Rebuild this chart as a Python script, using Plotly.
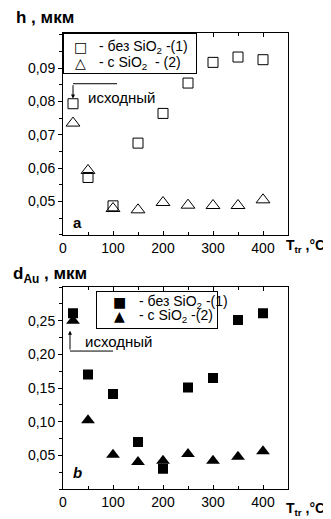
import plotly.graph_objects as go

temps = [20, 50, 100, 150, 200, 250, 300, 350, 400]
h_no_sio2 = [0.0793, 0.0572, 0.0487, 0.0675, 0.0764, 0.0855, 0.0917, 0.0933, 0.0925]
h_sio2 = [0.0735, 0.0593, 0.0479, 0.0475, 0.0497, 0.0489, 0.0488, 0.0488, 0.0505]
d_no_sio2 = [0.261, 0.170, 0.141, 0.070, 0.030, 0.151, 0.165, 0.251, 0.261]
d_sio2 = [0.250, 0.102, 0.051, 0.040, 0.042, 0.052, 0.042, 0.048, 0.056]

x_ticks = [0, 100, 200, 300, 400]
h_ticks = [0.05, 0.06, 0.07, 0.08, 0.09]
h_ticktext = ["0,05", "0,06", "0,07", "0,08", "0,09"]
d_ticks = [0.05, 0.10, 0.15, 0.20, 0.25]
d_ticktext = ["0,05", "0,10", "0,15", "0,20", "0,25"]

FONT = "Liberation Sans, Arial, sans-serif"
SYMFONT = "DejaVu Sans, sans-serif"
OFF = 8  # page body margin
W, H = 331 - OFF, 519 - OFF
L = 63 - OFF
T = 33 - OFF
R = W - (288 - OFF)
B = H - (489.3 - OFF)
PW, PH = W - L - R, H - T - B


def px(xp):
    return (xp - OFF - L) / PW


def py(yp):
    return 1 - (yp - OFF - T) / PH


top_dom = [py(235), py(33)]
bot_dom = [py(489.3), py(287.3)]

fig = go.Figure()

fig.add_trace(go.Scatter(x=temps, y=h_no_sio2, mode="markers", name="- без SiO2 -(1)",
                         marker=dict(symbol="square-open", size=10, color="black", line=dict(width=1)),
                         xaxis="x", yaxis="y"))
fig.add_trace(go.Scatter(x=temps, y=h_sio2, mode="markers", name="- с SiO2 - (2)",
                         marker=dict(symbol="triangle-up-open", size=12, color="black", line=dict(width=1)),
                         xaxis="x", yaxis="y"))
fig.add_trace(go.Scatter(x=temps, y=d_no_sio2, mode="markers", name="- без SiO2 -(1)",
                         marker=dict(symbol="square", size=10, color="black"),
                         xaxis="x2", yaxis="y2"))
fig.add_trace(go.Scatter(x=temps, y=d_sio2, mode="markers", name="- с SiO2 -(2)",
                         marker=dict(symbol="triangle-up", size=12, color="black"),
                         xaxis="x2", yaxis="y2"))

tickfont = dict(family=FONT, size=14, color="black")


def xaxis(anchor):
    return dict(domain=[0, 1], range=[0, 450], anchor=anchor, tickvals=x_ticks,
                ticks="inside", ticklen=4, tickcolor="black", mirror="allticks",
                showline=True, linecolor="black", linewidth=1, showgrid=False, zeroline=False,
                automargin=False, tickfont=tickfont,
                minor=dict(ticks="inside", dtick=50, tick0=0, ticklen=3, tickcolor="black"))


def yaxis(anchor, dom, rng, tv, tt, mdt):
    return dict(domain=dom, range=rng, anchor=anchor, tickvals=tv, ticktext=tt,
                ticks="outside", ticklen=4, tickcolor="black", mirror=True,
                showline=True, linecolor="black", linewidth=1, showgrid=False, zeroline=False,
                automargin=False, tickfont=tickfont,
                minor=dict(ticks="outside", dtick=mdt, ticklen=3, tickcolor="black"))


def yright(anchor, over, dom, rng, tv, mdt):
    return dict(domain=dom, range=rng, anchor=anchor, overlaying=over, side="right",
                tickvals=tv, ticks="inside", ticklen=4, tickcolor="black", showticklabels=False,
                showline=False, showgrid=False, zeroline=False, automargin=False,
                minor=dict(ticks="inside", dtick=mdt, ticklen=3, tickcolor="black"))


h_range = [0.04, 0.1005]
d_range = [0.0, 0.3]

fig.update_layout(
    width=W, height=H, autosize=False,
    margin=dict(l=L, r=R, t=T, b=B, autoexpand=False),
    paper_bgcolor="white", plot_bgcolor="white",
    font=dict(family=FONT, color="black"),
    xaxis=xaxis("y"),
    yaxis=yaxis("x", top_dom, h_range, h_ticks, h_ticktext, 0.005),
    xaxis2=xaxis("y2"),
    yaxis2=yaxis("x2", bot_dom, d_range, d_ticks, d_ticktext, 0.025),
    yaxis3=yright("x", "y", top_dom, h_range, h_ticks, 0.005),
    yaxis4=yright("x2", "y2", bot_dom, d_range, d_ticks, 0.025),
    showlegend=False,
)

ann = []


def txt(text, xp, yp, size, anchor="left", family=FONT):
    ann.append(dict(text=text, x=px(xp), y=py(yp), xref="paper", yref="paper",
                    xanchor=anchor, yanchor="middle", showarrow=False,
                    font=dict(size=size, family=family, color="black")))


def box(x0, y0, x1, y1):
    # legend frame drawn as a bordered empty annotation
    ann.append(dict(text=" ", x=px(x0), y=py(y0), xref="paper", yref="paper",
                    xanchor="left", yanchor="top", showarrow=False,
                    width=x1 - x0 - 2, height=y1 - y0 - 2, borderpad=0,
                    bordercolor="black", borderwidth=1, bgcolor="white"))


# axis titles
txt("<b>h , мкм</b>", 14, 17, 17)
txt("<b>d<sub>Au</sub> , мкм</b>", 11, 275, 17)
txt("<b>T<sub>tr</sub> ,°C</b>", 284, 246, 14)
txt("<b>T<sub>tr</sub> ,°C</b>", 284, 509, 14)

# legend frames
box(63, 33, 197, 74)
box(96, 290.7, 218, 329)

# legend contents
txt("□", 80, 46.7, 14, "center", SYMFONT)
txt("△", 80, 63, 14, "center", SYMFONT)
txt("- без SiO<sub>2</sub> -(1)", 97, 46.7, 14)
txt("- с SiO<sub>2</sub>  - (2)", 97, 63.5, 14)
txt("■", 119, 302.3, 14, "center", SYMFONT)
txt("▲", 119, 316, 14, "center", SYMFONT)
txt("- без SiO<sub>2</sub> -(1)", 136.5, 302.3, 14)
txt("- с SiO<sub>2</sub> -(2)", 136.5, 316.2, 14)

# panel labels
ann.append(dict(text="<b>a</b>", x=28, y=0.0436, xref="x", yref="y", showarrow=False,
                font=dict(size=15, color="black")))
ann.append(dict(text="<b><i>b</i></b>", x=28, y=0.0245, xref="x2", yref="y2", showarrow=False,
                font=dict(size=15, color="black")))

# "исходный" annotations
ann.append(dict(text="исходный", x=46, y=0.0812, xref="x", yref="y", xanchor="left", yanchor="middle",
                showarrow=False, font=dict(size=15, color="black")))
ann.append(dict(text="", x=20, y=0.0809, xref="x", yref="y", ax=20, ay=0.0853, axref="x", ayref="y",
                showarrow=True, arrowhead=2, arrowsize=0.8, arrowwidth=1, arrowcolor="black"))
ann.append(dict(text="исходный", x=39, y=0.2195, xref="x2", yref="y2", xanchor="left", yanchor="middle",
                showarrow=False, font=dict(size=15, color="black")))
ann.append(dict(text="", x=14, y=0.235, xref="x2", yref="y2", ax=14, ay=0.205, axref="x2", ayref="y2",
                showarrow=True, arrowhead=2, arrowsize=0.8, arrowwidth=1, arrowcolor="black"))
fig.update_layout(annotations=ann)

fig.add_shape(type="line", x0=20, x1=108, y0=0.0853, y1=0.0853, xref="x", yref="y",
              line=dict(color="black", width=1))
fig.add_shape(type="line", x0=14, x1=100, y0=0.205, y1=0.205, xref="x2", yref="y2",
              line=dict(color="black", width=1))

fig.write_html("out.html")
